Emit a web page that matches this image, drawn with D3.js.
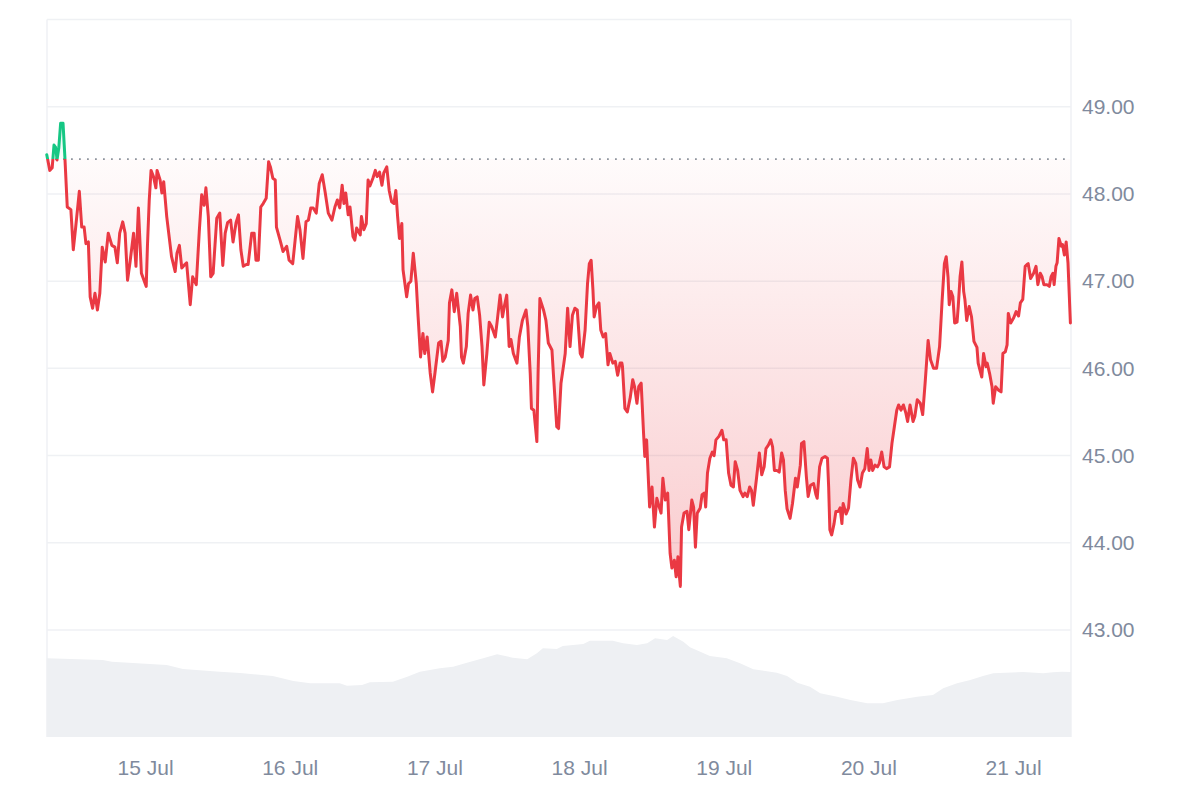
<!DOCTYPE html>
<html><head><meta charset="utf-8">
<script src="https://cdn.jsdelivr.net/npm/d3@7"></script>
<style>body{margin:0;background:#fff}svg{display:block}</style>
</head><body>
<svg id="chart" width="1200" height="800"></svg>
<script>
// Hours since 14 Jul 00:00 (UTC) and price values
const hours = [7.7,8.2,8.6,8.9,9.2,9.4,9.7,10.0,10.4,10.7,11.1,11.7,12.1,12.5,13.1,13.5,13.9,14.2,14.6,14.9,15.3,15.7,16.1,16.5,16.9,17.4,17.9,18.5,19.0,19.4,19.8,20.3,20.7,21.1,21.5,22.1,22.5,22.9,23.4,24.2,24.4,24.7,25.0,25.4,25.8,26.0,26.5,26.8,27.1,27.6,28.0,28.4,29.0,29.3,29.7,30.1,30.6,30.9,31.5,31.9,32.5,33.0,33.4,33.8,34.1,34.5,34.9,35.3,35.9,36.4,36.9,37.3,37.7,38.2,38.6,39.1,39.5,39.9,40.3,40.8,41.1,41.7,42.1,42.4,42.8,43.2,43.6,44.1,44.5,44.8,45.2,45.6,45.8,46.4,46.9,47.5,47.9,48.5,48.9,49.3,49.7,50.2,50.7,51.1,51.5,51.9,52.4,52.9,53.4,53.9,54.4,55.0,55.5,55.9,56.3,56.7,57.0,57.3,57.7,58.0,58.5,58.8,59.1,59.7,59.9,60.3,60.7,61.0,61.3,61.8,62.2,62.5,62.9,63.3,63.6,64.1,64.5,64.9,65.3,65.6,65.9,66.2,66.6,66.8,67.4,67.7,68.1,68.5,69.0,69.3,69.7,70.1,70.4,70.8,71.3,71.7,72.1,72.7,73.1,73.4,73.8,74.3,74.5,74.9,75.3,75.7,76.3,76.5,76.8,77.3,77.6,78.0,78.4,78.7,79.1,79.5,79.9,80.2,80.7,81.1,81.5,82.1,82.4,82.9,83.3,83.6,84.0,84.4,84.7,85.1,85.7,86.1,86.6,87.2,87.5,87.9,88.1,88.5,89.0,89.2,89.5,90.1,90.5,90.9,91.5,91.8,92.3,92.6,93.0,93.4,93.7,94.1,94.5,94.9,95.3,95.7,96.2,96.5,97.0,97.4,97.7,98.0,98.3,98.5,98.9,99.3,99.6,100.0,100.4,100.8,101.1,101.6,102.0,102.4,102.8,103.1,103.2,103.6,104.0,104.5,104.9,105.2,105.6,105.9,106.3,106.7,106.9,107.2,107.7,108.1,108.5,108.9,109.3,109.6,109.9,110.3,110.7,111.1,111.4,111.8,112.1,112.4,112.6,112.8,113.0,113.4,113.9,114.2,114.7,115.0,115.3,115.6,116.1,116.4,116.8,117.0,117.3,117.7,118.1,118.4,118.7,119.2,119.7,120.0,120.4,120.8,121.2,121.6,121.9,122.3,122.7,123.2,123.5,123.9,124.3,124.6,124.9,125.4,125.9,126.3,126.7,127.0,127.4,127.8,128.1,128.4,128.8,129.2,129.6,129.9,130.2,130.5,131.0,131.4,131.9,132.2,132.7,132.9,133.3,133.7,134.0,134.4,134.9,135.3,135.5,135.9,136.3,136.8,137.2,137.4,137.6,137.9,138.3,138.6,139.0,139.3,139.6,139.8,140.3,140.7,141.1,141.5,141.9,142.2,142.6,143.0,143.4,143.8,144.1,144.4,144.7,145.1,145.5,145.8,146.2,146.6,147.0,147.5,147.9,148.3,148.7,149.0,149.4,149.8,150.2,150.5,150.9,151.4,151.7,152.1,152.6,153.0,153.4,153.9,154.3,154.8,155.3,155.8,156.2,156.6,156.9,157.2,157.4,157.7,158.0,158.3,158.7,158.9,159.2,159.5,159.8,160.0,160.3,160.7,161.1,161.5,162.0,162.2,162.5,162.8,163.1,163.5,163.7,164.1,164.5,164.7,165.1,165.6,166.0,166.3,166.7,167.0,167.2,167.6,168.1,168.5,168.9,169.2,169.6,170.0,170.3,170.5,170.9,171.4,171.8,172.1,172.5,172.8,173.1,173.6,174.0,174.3,174.6,174.8,175.1,175.3,175.6,176.0,176.2,176.5,176.8,177.1,177.5];
const prices = [48.45,48.27,48.30,48.56,48.53,48.39,48.53,48.81,48.81,48.43,47.85,47.82,47.36,47.62,48.03,47.62,47.62,47.43,47.45,46.82,46.69,46.86,46.67,46.86,47.39,47.22,47.55,47.41,47.39,47.21,47.55,47.68,47.55,47.01,47.21,47.55,47.17,47.84,47.09,46.94,47.40,47.93,48.27,48.20,48.07,48.27,48.16,48.01,48.14,47.74,47.51,47.28,47.11,47.32,47.41,47.15,47.19,47.21,46.73,47.05,46.96,47.57,47.99,47.87,48.07,47.74,47.05,47.09,47.72,47.78,47.18,47.55,47.67,47.70,47.45,47.67,47.76,47.36,47.17,47.19,47.19,47.55,47.55,47.24,47.24,47.85,47.89,47.95,48.37,48.31,48.18,48.16,47.62,47.47,47.34,47.40,47.24,47.20,47.47,47.74,47.59,47.26,47.68,47.70,47.84,47.84,47.78,48.12,48.22,48.01,47.78,47.70,47.85,47.93,47.84,48.10,47.89,48.01,47.76,47.85,47.51,47.47,47.61,47.53,47.74,47.59,47.66,48.16,48.09,48.18,48.27,48.20,48.25,48.10,48.24,48.31,48.04,47.91,47.89,48.04,47.74,47.49,47.66,47.13,46.82,46.97,47.00,47.32,46.97,46.59,46.13,46.40,46.17,46.36,45.95,45.73,45.95,46.29,46.31,46.08,46.13,46.32,46.75,46.90,46.65,46.86,46.48,46.13,46.06,46.25,46.63,46.84,46.67,46.80,46.82,46.61,46.25,45.81,46.17,46.53,46.48,46.36,46.53,46.84,46.59,46.71,46.84,46.25,46.33,46.17,46.06,46.36,46.55,46.67,46.48,45.94,45.54,45.52,45.16,45.94,46.80,46.67,46.55,46.29,46.21,45.87,45.33,45.31,45.83,46.02,46.17,46.69,46.25,46.61,46.69,46.67,46.17,46.13,46.44,46.97,47.20,47.24,46.90,46.59,46.71,46.75,46.44,46.36,46.40,46.04,46.17,46.06,46.08,45.92,46.06,46.06,46.02,45.54,45.50,45.67,45.87,45.79,45.60,45.79,45.83,45.25,44.99,45.18,44.41,44.64,44.18,44.51,44.41,44.34,44.74,44.49,44.57,43.88,43.71,43.80,43.61,43.84,43.65,43.50,44.18,44.34,44.36,44.15,44.49,44.41,43.95,44.34,44.40,44.55,44.57,44.41,44.80,44.97,45.04,45.00,45.18,45.22,45.29,45.18,45.18,44.80,44.66,44.64,44.93,44.83,44.60,44.53,44.57,44.53,44.64,44.60,44.43,44.72,45.03,44.78,44.87,45.08,45.12,45.18,45.10,44.83,44.83,44.81,45.03,44.95,44.60,44.39,44.28,44.45,44.74,44.64,44.89,45.14,45.16,44.76,44.53,44.66,44.68,44.55,44.51,44.87,44.97,44.99,44.97,44.64,44.15,44.09,44.22,44.36,44.36,44.40,44.22,44.45,44.33,44.40,44.72,44.97,44.91,44.72,44.64,44.80,44.85,45.08,44.83,44.95,44.83,44.89,44.87,44.91,45.04,44.87,44.85,44.87,45.14,45.33,45.52,45.58,45.52,45.58,45.49,45.39,45.58,45.39,45.45,45.64,45.60,45.47,45.83,46.32,46.10,46.00,46.00,46.25,46.75,47.20,47.28,47.05,46.73,46.88,46.82,46.52,46.53,46.71,47.05,47.22,46.88,46.79,46.55,46.71,46.59,46.31,46.24,46.06,45.98,45.90,46.17,46.02,46.06,45.94,45.79,45.60,45.79,45.75,45.73,46.17,46.19,46.27,46.63,46.52,46.58,46.65,46.60,46.75,46.79,47.17,47.19,47.20,47.03,47.09,47.17,46.96,47.09,47.05,46.96,46.96,46.94,47.05,47.09,46.96,47.17,47.21,47.49,47.40,47.42,47.30,47.45,47.21,46.52];

// Volume (relative units) sampled over time
const volHours = [7.7,17.0,18.5,22.0,27.6,30.3,36.4,39.8,45.2,48.6,51.4,56.3,57.5,60.0,61.3,65.1,67.5,69.6,72.9,75.1,77.4,80.1,82.4,85.0,87.4,89.0,90.0,92.3,93.3,96.7,97.8,101.6,103.3,105.6,107.3,108.6,110.6,111.6,113.3,114.4,116.1,117.7,120.5,122.7,124.9,128.8,130.5,132.2,134.3,136.0,138.8,141.0,143.8,146.4,148.8,152.1,154.7,156.4,158.7,160.9,163.0,164.7,169.7,173.0,174.6,176.1,177.6];
const volumes = [78.7,77,75.3,74,72,68,65.3,64,61,56,53.7,53.7,51.3,52,54.7,55.3,60.3,65.3,68.7,70.3,74.3,78.7,82.7,79.3,77.7,83.7,88.7,88,91,93,96.3,96.3,93.7,92,93.7,98.7,97,101,95.3,89.7,85.3,81,78.7,73.7,67.7,64.3,61,54.3,50.3,43.7,40.3,37,33.7,33.7,37,40.3,42,48.7,53.7,57,61,63.7,65,63.7,64.7,65.3,65];

const baselinePrice = 48.40;
const yTicks = [43,44,45,46,47,48,49];
const gridValues = [43,44,45,46,47,48,49,50];
const xTickDays = [15,16,17,18,19,20,21];

if (hours.length !== prices.length) throw new Error('len mismatch '+hours.length+' '+prices.length);
if (volHours.length !== volumes.length) throw new Error('vol len mismatch '+volHours.length+' '+volumes.length);

const base = Date.UTC(2024,6,14);
const toDate = h => new Date(base + h*3600e3);
const data = hours.map((h,i)=>({t:toDate(h), v:prices[i]}));
const vol = volHours.map((h,i)=>({t:toDate(h), v:volumes[i]}));

const mLeft=47, mRight=1071, mTop=19.5, priceBottom=630, volBottom=737;
const svg = d3.select('#chart');

const x = d3.scaleUtc().domain([toDate(7.74), toDate(177.6)]).range([mLeft,mRight]);
const y = d3.scaleLinear().domain([43,50]).range([priceBottom, mTop]);
const yv = d3.scaleLinear().domain([0,100]).range([volBottom, volBottom-100]);

const defs = svg.append('defs');
const gradR = defs.append('linearGradient').attr('id','gr').attr('gradientUnits','userSpaceOnUse')
  .attr('x1',0).attr('x2',0).attr('y1',y(baselinePrice)).attr('y2',y(43.5));
gradR.append('stop').attr('offset',0).attr('stop-color','#ea3943').attr('stop-opacity',0.02);
gradR.append('stop').attr('offset',1).attr('stop-color','#ea3943').attr('stop-opacity',0.26);
const gradG = defs.append('linearGradient').attr('id','gg').attr('gradientUnits','userSpaceOnUse')
  .attr('x1',0).attr('x2',0).attr('y1',y(baselinePrice)).attr('y2',y(49));
gradG.append('stop').attr('offset',0).attr('stop-color','#16c784').attr('stop-opacity',0.02);
gradG.append('stop').attr('offset',1).attr('stop-color','#16c784').attr('stop-opacity',0.2);

defs.append('clipPath').attr('id','below').append('rect')
  .attr('x',mLeft-5).attr('width',mRight-mLeft+10).attr('y',y(baselinePrice)).attr('height',volBottom-y(baselinePrice));
defs.append('clipPath').attr('id','above').append('rect')
  .attr('x',mLeft-5).attr('width',mRight-mLeft+10).attr('y',0).attr('height',y(baselinePrice));

// gridlines
svg.append('g').selectAll('line').data(gridValues).join('line')
  .attr('x1',mLeft).attr('x2',mRight).attr('y1',d=>y(d)).attr('y2',d=>y(d))
  .attr('stroke','#eff1f4').attr('stroke-width',1.5);
// borders
svg.append('g').selectAll('line').data([mLeft,mRight]).join('line')
  .attr('x1',d=>d).attr('x2',d=>d).attr('y1',y(50)).attr('y2',volBottom)
  .attr('stroke','#eff1f4').attr('stroke-width',1.5);

// volume
svg.append('path').datum(vol)
  .attr('d', d3.area().x(d=>x(d.t)).y0(volBottom).y1(d=>yv(d.v)).curve(d3.curveLinear))
  .attr('fill','#eef0f3');

// fills
const area = d3.area().x(d=>x(d.t)).y0(y(baselinePrice)).y1(d=>y(d.v));
svg.append('path').datum(data).attr('d',area).attr('fill','url(#gr)').attr('clip-path','url(#below)');
svg.append('path').datum(data).attr('d',area).attr('fill','url(#gg)').attr('clip-path','url(#above)');

// baseline
svg.append('line').attr('x1',mLeft).attr('x2',mRight).attr('y1',y(baselinePrice)).attr('y2',y(baselinePrice))
  .attr('stroke','#8e959e').attr('stroke-width',1.8).attr('stroke-dasharray','1.8 6.2');

// lines
const line = d3.line().x(d=>x(d.t)).y(d=>y(d.v));
svg.append('path').datum(data).attr('d',line).attr('fill','none').attr('stroke','#ea3943')
  .attr('stroke-width',3).attr('stroke-linejoin','round').attr('stroke-linecap','round').attr('clip-path','url(#below)');
svg.append('path').datum(data).attr('d',line).attr('fill','none').attr('stroke','#16c784')
  .attr('stroke-width',3).attr('stroke-linejoin','round').attr('stroke-linecap','round').attr('clip-path','url(#above)');

// y axis labels
const yAxis = d3.axisRight(y).tickValues(yTicks).tickFormat(d3.format('.2f')).tickSize(0).tickPadding(11);
const gy = svg.append('g').attr('transform',`translate(${mRight},0)`).call(yAxis);
gy.select('.domain').remove();
gy.selectAll('text').attr('fill','#808a9d').style('font-family','"Liberation Sans", Arial, sans-serif').style('font-size','21px');

// x axis labels
const xAxis = d3.axisBottom(x).tickValues(xTickDays.map(d=>new Date(Date.UTC(2024,6,d))))
  .tickFormat(d3.utcFormat('%-d %b')).tickSize(0).tickPadding(23);
const gx = svg.append('g').attr('transform',`translate(0,${volBottom})`).call(xAxis);
gx.select('.domain').remove();
gx.selectAll('text').attr('fill','#808a9d').style('font-family','"Liberation Sans", Arial, sans-serif').style('font-size','21px');
</script>
</body></html>
